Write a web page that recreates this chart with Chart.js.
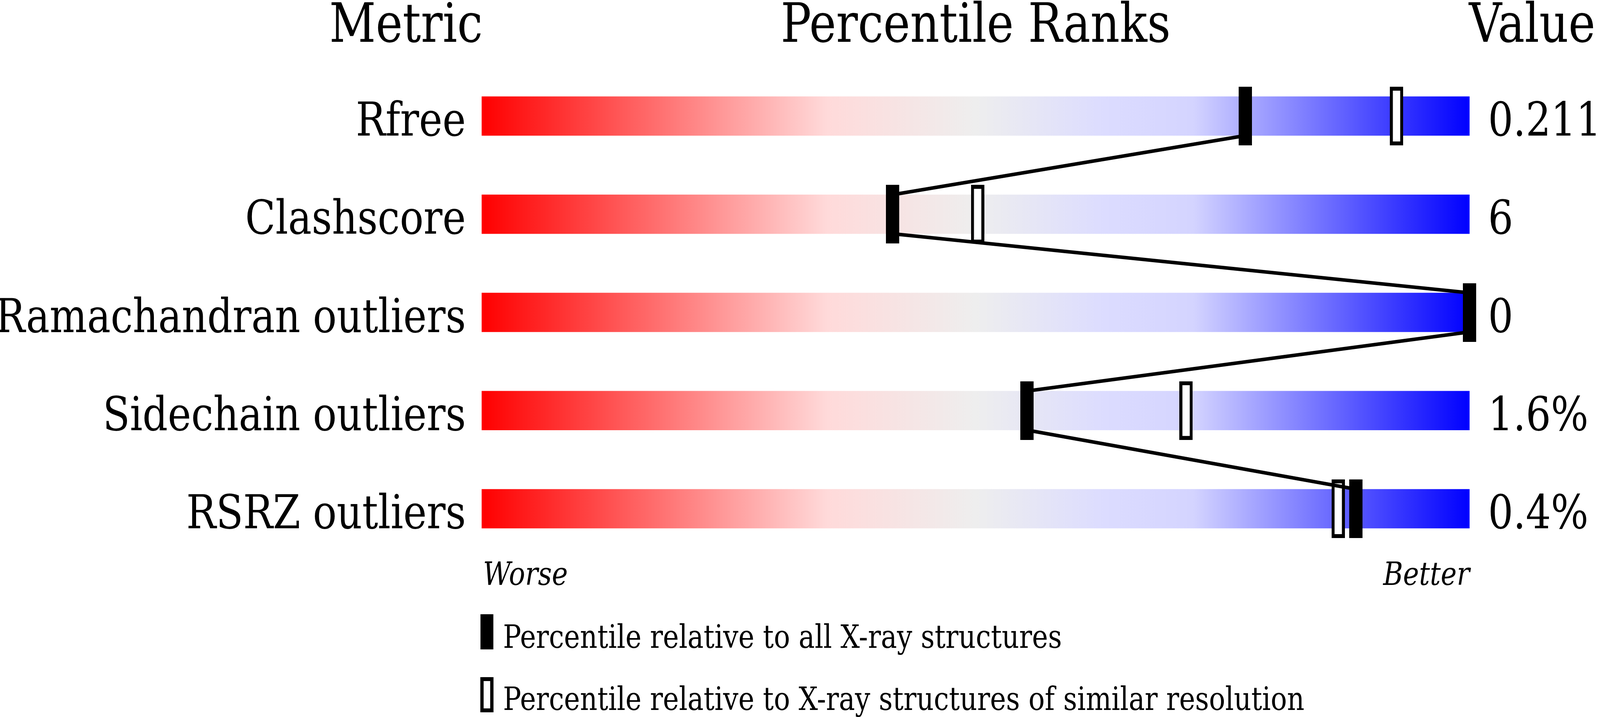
<!DOCTYPE html>
<html>
<head>
<meta charset="utf-8">
<script src="https://cdn.jsdelivr.net/npm/chart.js@4/dist/chart.umd.min.js"></script>
<style>
  html, body { margin: 0; padding: 0; background: #fff; overflow: hidden; }
  canvas { display: block; }
</style>
</head>
<body>
<canvas id="graph-ranks"></canvas>
<script>
  const metrics = ['Rfree', 'Clashscore', 'Ramachandran outliers', 'Sidechain outliers', 'RSRZ outliers'];
  const values = ['0.211', '6', '0', '1.6%', '0.4%'];
  const pctAll = [77.3, 41.6, 100, 55.2, 88.5];
  const pctSimilar = [92.6, 50.2, 100, 71.3, 86.7];
  const legendLabels = ['Percentile relative to all X-ray structures',
                        'Percentile relative to X-ray structures of similar resolution'];

  const FONT = "'DejaVu Serif', serif";
  // layout measured on the 4860x1835 picture, mapped onto whatever viewport we get
  const W = 4860, H = 1835;
  const kx = document.documentElement.clientWidth / W;
  const ky = document.documentElement.clientHeight / H;
  const X = (v) => v * kx;
  const Y = (v) => v * ky;

  const BAR_PX = 100;
  const ROW_PX = 251.2;
  const half = BAR_PX / 2 / ROW_PX;

  const canvas = document.getElementById('graph-ranks');
  canvas.width = Math.round(W * kx);
  canvas.height = Math.round(H * ky);

  // marker images, used as point styles
  function makeMarker(hollow) {
    const c = document.createElement('canvas');
    c.width = Math.round(X(40));
    c.height = Math.round(Y(150));
    const g = c.getContext('2d');
    g.fillStyle = '#000';
    g.fillRect(0, 0, c.width, c.height);
    if (hollow) {
      g.fillStyle = '#fff';
      g.fillRect(X(9), Y(10), c.width - 2 * X(9), c.height - 2 * Y(10));
    }
    return c;
  }
  const solidMarker = makeMarker(false);
  const hollowMarker = makeMarker(true);

  function trackGradient(context) {
    const chart = context.chart;
    const area = chart.chartArea;
    if (!area) return null;
    const g = chart.ctx.createLinearGradient(area.left, 0, area.right, 0);
    g.addColorStop(0, '#ff0000');
    g.addColorStop(0.35, '#ffdada');
    g.addColorStop(0.5, '#eeeeee');
    g.addColorStop(0.63, '#dcdcff');
    g.addColorStop(0.72, '#d4d4ff');
    g.addColorStop(1, '#0000ff');
    return g;
  }

  // connector: from bottom of one bar to top of the next, at the black markers
  const linkPoints = [];
  pctAll.forEach((p, i) => {
    if (i > 0) linkPoints.push({ x: p, y: i - half });
    if (i < pctAll.length - 1) linkPoints.push({ x: p, y: i + half });
  });

  function text(ctx, str, x, y, align) {
    ctx.save();
    ctx.translate(x, y);
    ctx.scale(kx, ky);
    ctx.textAlign = align;
    ctx.fillText(str, 0, 0);
    ctx.restore();
  }

  const textPlugin = {
    id: 'textPlugin',
    afterDraw(chart) {
      const ctx = chart.ctx;
      const area = chart.chartArea;
      const y = chart.scales.y;
      ctx.save();
      ctx.fillStyle = '#000';
      ctx.textBaseline = 'alphabetic';

      // headers
      ctx.font = '138px ' + FONT;
      text(ctx, 'Metric', area.left + X(3), Y(107), 'right');
      text(ctx, 'Percentile Ranks', (area.left + area.right) / 2, Y(107), 'center');
      text(ctx, 'Value', area.right - X(2), Y(107), 'left');

      // row labels and values
      ctx.font = '120px ' + FONT;
      metrics.forEach((m, i) => {
        const base = y.getPixelForValue(i) + Y(BAR_PX / 2);
        text(ctx, m, area.left - X(48), base, 'right');
        text(ctx, values[i], area.right + X(56), base, 'left');
      });

      // worse / better
      ctx.font = 'italic 82px ' + FONT;
      text(ctx, 'Worse', area.left + X(4), Y(1497), 'left');
      text(ctx, 'Better', area.right, Y(1497), 'right');

      // legend
      ctx.font = '82px ' + FONT;
      ctx.drawImage(solidMarker, area.left - X(4), Y(1572), X(40), Y(90));
      text(ctx, legendLabels[0], area.left + X(65), Y(1658), 'left');
      ctx.fillRect(area.left - X(4), Y(1733), X(40), Y(90));
      ctx.fillStyle = '#fff';
      ctx.fillRect(area.left + X(6), Y(1743), X(20), Y(70));
      ctx.fillStyle = '#000';
      text(ctx, legendLabels[1], area.left + X(65), Y(1817), 'left');
      ctx.restore();
    }
  };

  const data = {
    datasets: [
      {
        type: 'bar',
        indexAxis: 'y',
        data: metrics.map((m, i) => ({ x: [0, 100], y: i })),
        backgroundColor: trackGradient,
        borderWidth: 0,
        barThickness: Y(BAR_PX),
        order: 4
      },
      {
        type: 'scatter',
        data: pctSimilar.map((p, i) => ({ x: p, y: i })),
        pointStyle: hollowMarker,
        pointRadius: X(20),
        clip: false,
        order: 3
      },
      {
        type: 'line',
        data: linkPoints,
        borderColor: '#000',
        borderWidth: 9,
        borderJoinStyle: 'round',
        pointRadius: 0,
        tension: 0,
        fill: false,
        clip: false,
        order: 2
      },
      {
        type: 'scatter',
        data: pctAll.map((p, i) => ({ x: p, y: i })),
        pointStyle: solidMarker,
        pointRadius: X(20),
        clip: false,
        order: 1
      }
    ]
  };

  const config = {
    type: 'bar',
    data: data,
    options: {
      responsive: false,
      animation: false,
      devicePixelRatio: 1,
      layout: {
        autoPadding: false,
        padding: { left: X(1463), right: X(396), top: Y(171.4), bottom: Y(407.4) }
      },
      scales: {
        x: { type: 'linear', min: 0, max: 100, offset: false, display: false },
        y: { type: 'linear', min: -0.5, max: 4.5, reverse: true, offset: false, display: false }
      },
      plugins: {
        legend: { display: false },
        title: { display: false },
        tooltip: { enabled: false }
      }
    },
    plugins: [textPlugin]
  };

  new Chart(canvas.getContext('2d'), config);
</script>
</body>
</html>
